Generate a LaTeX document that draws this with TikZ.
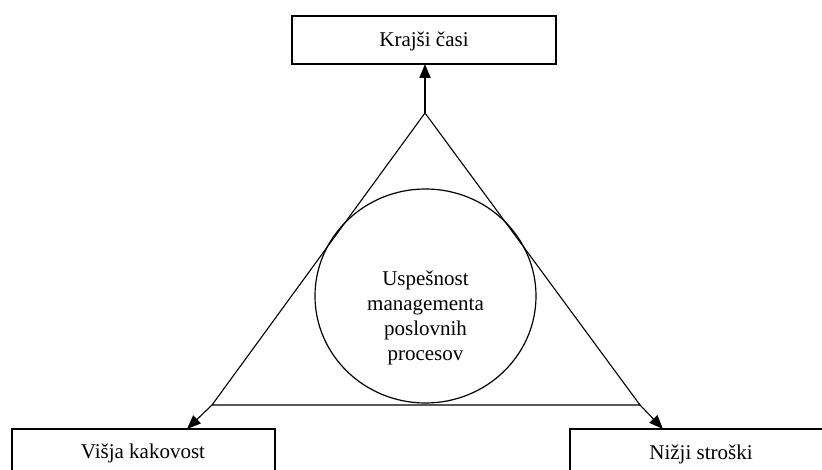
\documentclass[tikz,border=0pt]{standalone}
\usepackage{fontspec}
\setmainfont{Liberation Serif}
\usetikzlibrary{arrows.meta}
\begin{document}
\begin{tikzpicture}[x=1pt,y=-1pt,
  boxstyle/.style={draw,line width=1.3pt,inner sep=0pt},
  lbl/.style={font=\fontsize{21}{24.8}\selectfont,align=center},
  edge/.style={line width=1.1pt},
  arr/.style={line width=1.1pt,-{Triangle[length=14pt,width=11pt]}},
  toparr/.style={line width=2pt,-{Triangle[length=14pt,width=11pt]}}]
\useasboundingbox (0,0) rectangle (822,470);
% boxes
\draw[boxstyle] (292,16) rectangle (556,64);
\node[lbl,anchor=base] (top) at (424,47) {Krajši časi};
\coordinate (topb) at (425,64);
\draw[boxstyle] (12,429) rectangle (275,490);
\node[lbl,anchor=base] (left) at (143,458) {Višja kakovost};
\draw[boxstyle] (570,429) rectangle (830,490);
\node[lbl,anchor=base] (right) at (701,459) {Nižji stroški};
% triangle
\coordinate (apex) at (425,113);
\coordinate (bl) at (212,405);
\coordinate (br) at (640,405);
\coordinate (lt) at (187,429);
\coordinate (rt) at (663,429);
\draw[edge] (bl) -- (apex) -- (br) -- cycle;
% circle
\draw[line width=1.2pt] (425.5,296) ellipse [x radius=110.5, y radius=107];
\node[lbl] (c) at (425.5,318) {Uspešnost\\managementa\\poslovnih\\procesov};
% arrows
\draw[toparr] (apex) -- (topb);
\draw[arr] (bl) -- (lt);
\draw[arr] (br) -- (rt);
\end{tikzpicture}
\end{document}
